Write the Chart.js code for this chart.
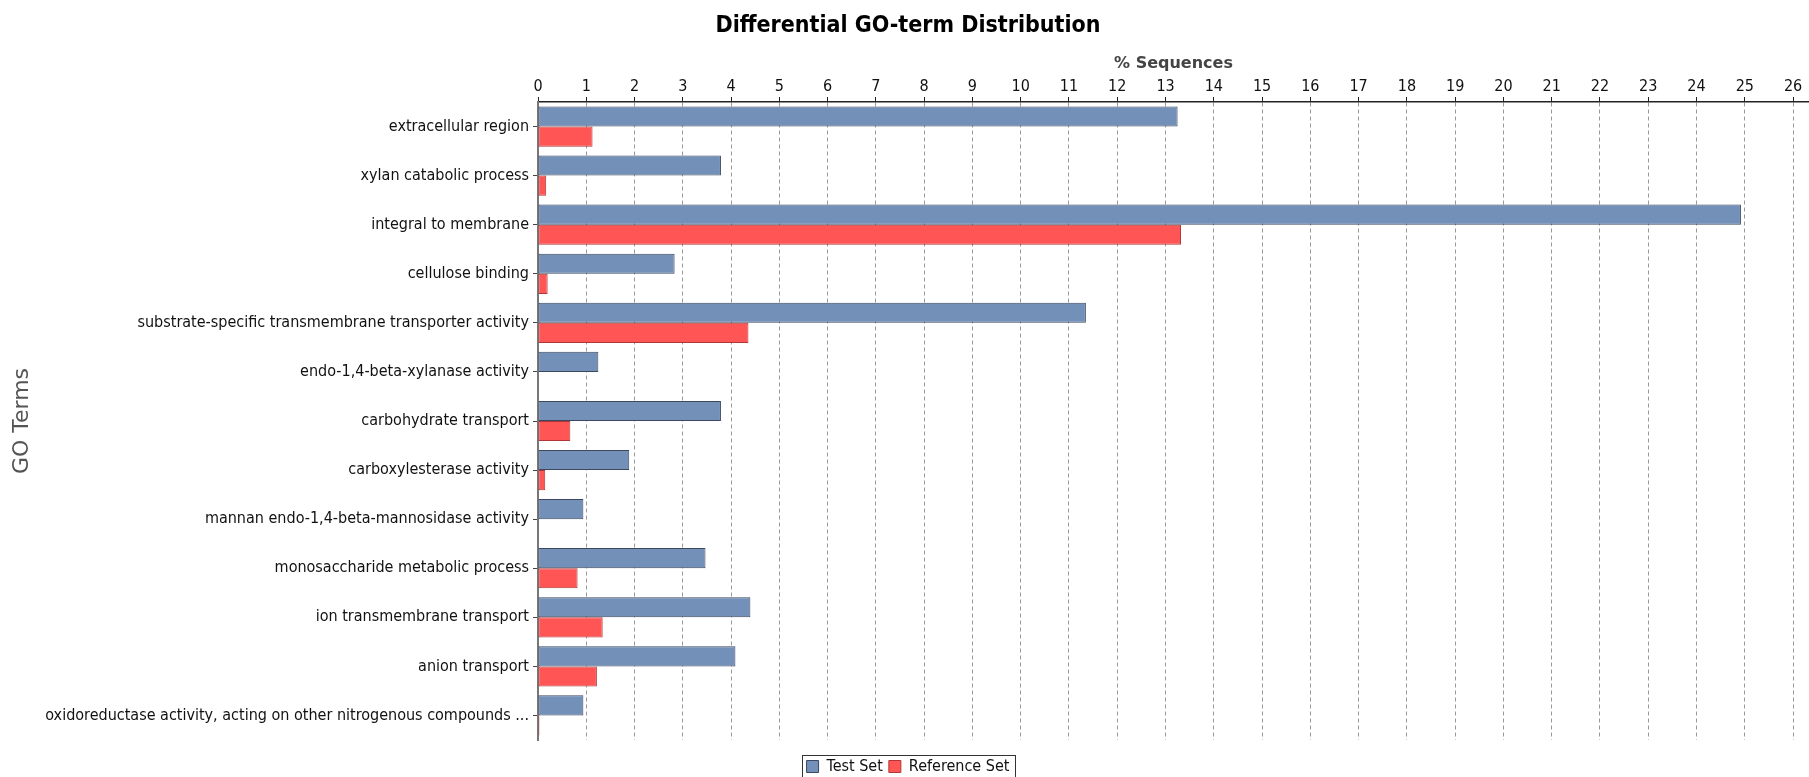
<!DOCTYPE html>
<html>
<head>
<meta charset="utf-8">
<script src="https://cdn.jsdelivr.net/npm/chart.js"></script>
<style>
  html, body { margin: 0; padding: 0; background: #fff; }
  #wrap { width: 1809px; height: 777px; }
</style>
</head>
<body>
<div id="wrap"><canvas id="chart" width="1809" height="777"></canvas></div>
<script>
const categories = [
    'extracellular region',
    'xylan catabolic process',
    'integral to membrane',
    'cellulose binding',
    'substrate-specific transmembrane transporter activity',
    'endo-1,4-beta-xylanase activity',
    'carbohydrate transport',
    'carboxylesterase activity',
    'mannan endo-1,4-beta-mannosidase activity',
    'monosaccharide metabolic process',
    'ion transmembrane transport',
    'anion transport',
    'oxidoreductase activity, acting on other nitrogenous compounds ...'
];

const testSet = [13.25, 3.79, 24.92, 2.83, 11.35, 1.25, 3.79, 1.89, 0.94, 3.47, 4.40, 4.09, 0.94];
const referenceSet = [1.13, 0.17, 13.32, 0.20, 4.36, 0, 0.67, 0.15, 0, 0.82, 1.34, 1.22, 0.03];

const xTicks = [0, 1, 2, 3, 4, 5, 6, 7, 8, 9, 10, 11, 12, 13, 14, 15, 16, 17, 18, 19, 20, 21, 22, 23, 24, 25, 26];

const labelFont = 'DejaVu Sans Condensed';

// JFreeChart style box around the legend
const legendBorder = {
    id: 'legendBorder',
    afterDraw(chart) {
        const boxes = chart.legend.legendHitBoxes;
        if (!boxes || !boxes.length) return;
        const left = Math.min(...boxes.map(b => b.left)) - 5;
        const right = Math.max(...boxes.map(b => b.left + b.width)) + 5;
        const top = Math.min(...boxes.map(b => b.top)) - 4;
        const bottom = Math.max(...boxes.map(b => b.top + b.height)) + 6;
        const ctx = chart.ctx;
        ctx.save();
        ctx.strokeStyle = '#333';
        ctx.lineWidth = 1;
        ctx.strokeRect(Math.round(left) + 0.5, Math.round(top) + 0.5, Math.round(right - left), Math.round(bottom - top));
        ctx.restore();
    }
};

const ctx = document.getElementById('chart');
new Chart(ctx, {
    type: 'bar',
    data: {
        labels: categories,
        datasets: [
            {
                label: 'Test Set',
                data: testSet,
                backgroundColor: 'rgb(115,144,184)',
                borderColor: 'rgb(60,72,95)',
                borderWidth: 1,
                borderSkipped: false
            },
            {
                label: 'Reference Set',
                data: referenceSet,
                backgroundColor: 'rgb(255,85,85)',
                borderColor: 'rgb(175,55,55)',
                borderWidth: 1,
                borderSkipped: false
            }
        ]
    },
    options: {
        indexAxis: 'y',
        responsive: false,
        animation: false,
        categoryPercentage: 0.82,
        barPercentage: 1.0,
        layout: {
            padding: { left: 7, right: 0, top: 10, bottom: -7.5 }
        },
        plugins: {
            title: {
                display: true,
                text: 'Differential GO-term Distribution',
                color: '#000',
                font: { family: labelFont, size: 23, weight: 'bold' },
                padding: { top: 2, bottom: 15 }
            },
            legend: {
                position: 'bottom',
                labels: {
                    color: '#111',
                    font: { family: labelFont, size: 16 },
                    boxWidth: 12,
                    boxHeight: 12,
                    padding: 6
                }
            },
            tooltip: { enabled: false }
        },
        scales: {
            x: {
                position: 'top',
                min: 0,
                max: 26.33,
                afterBuildTicks: scale => {
                    scale.ticks = xTicks.map(v => ({ value: v }));
                },
                title: {
                    display: true,
                    text: '% Sequences',
                    color: '#444',
                    font: { family: 'DejaVu Sans', size: 16, weight: 'bold' },
                    padding: { top: 0, bottom: 2 }
                },
                ticks: {
                    color: '#111',
                    font: { family: labelFont, size: 16 },
                    padding: 1,
                    maxRotation: 0,
                    autoSkip: false
                },
                grid: {
                    color: '#999',
                    tickColor: '#222',
                    tickLength: 5,
                    lineWidth: 1
                },
                border: {
                    display: true,
                    color: '#222',
                    width: 1.5,
                    dash: [4, 3]
                }
            },
            // empty axis that only keeps a gap between the plot and the legend
            gap: {
                type: 'linear',
                position: 'bottom',
                grid: { display: false },
                ticks: { display: false },
                border: { display: false },
                afterFit: scale => {
                    scale.height = 12.5;
                }
            },
            y: {
                afterFit: scale => {
                    scale.width = 531;
                },
                title: {
                    display: true,
                    text: 'GO Terms',
                    color: '#555',
                    font: { family: 'DejaVu Sans', size: 22 },
                    padding: { top: 2, bottom: 0 }
                },
                ticks: {
                    color: '#111',
                    font: { family: labelFont, size: 16 },
                    padding: 4,
                    autoSkip: false
                },
                grid: {
                    offset: false,
                    drawOnChartArea: false,
                    color: '#444',
                    tickLength: 5
                },
                border: {
                    display: true,
                    color: '#777',
                    width: 2
                }
            }
        }
    },
    plugins: [legendBorder]
});
</script>
</body>
</html>
